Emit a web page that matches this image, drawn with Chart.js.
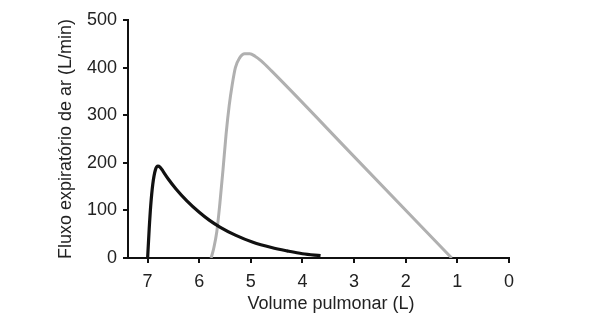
<!DOCTYPE html>
<html lang="pt">
<head>
    <meta charset="UTF-8">
    <title>Fluxo expiratório vs volume pulmonar</title>
    <script src="https://cdn.jsdelivr.net/npm/chart.js"></script>
    <style>
        html, body { margin: 0; padding: 0; background: #fff; }
        #wrap { width: 592px; height: 320px; }
    </style>
</head>
<body>
    <div id="wrap"><canvas id="flowChart"></canvas></div>

    <script>
        // volume (L) and flow (L/min)
        const blackVolume = [7.0, 6.97, 6.94, 6.9, 6.85, 6.8, 6.76, 6.7, 6.6, 6.45, 6.24, 6.0, 5.8, 5.6, 5.3, 4.96, 4.6, 4.3, 4.0, 3.65];
        const blackFlow   = [0,   60,   110,  155, 185,  193, 191,  182, 166, 145,  120,  96,  79,  65,  48,  33,   22,  15,  9,   5];

        const grayVolume = [5.77, 5.72, 5.66, 5.6, 5.54, 5.48, 5.42, 5.36, 5.3, 5.22, 5.12, 5.02, 4.92, 4.8, 4.6, 3.0, 1.11];
        const grayFlow   = [0,    20,   55,   115, 185,  260,  320,  365,  400, 420,  429,  429,  424,  414, 393, 213, 0];

        const xTicks = [0, 1, 2, 3, 4, 5, 6, 7];
        const yTicks = [0, 100, 200, 300, 400, 500];

        const toPoints = (xs, ys) => xs.map((x, i) => ({ x: x, y: ys[i] }));

        const font = { family: "'Liberation Sans', Arial, sans-serif", size: 18 };
        const ink = '#222';

        new Chart(document.getElementById('flowChart'), {
            type: 'scatter',
            data: {
                datasets: [
                    {
                        label: 'Obstrutivo',
                        data: toPoints(blackVolume, blackFlow),
                        showLine: true,
                        borderColor: '#111',
                        borderWidth: 3.2,
                        pointRadius: 0,
                        cubicInterpolationMode: 'monotone'
                    },
                    {
                        label: 'Normal',
                        data: toPoints(grayVolume, grayFlow),
                        showLine: true,
                        borderColor: '#b0b0b0',
                        borderWidth: 3,
                        pointRadius: 0,
                        cubicInterpolationMode: 'monotone'
                    }
                ]
            },
            options: {
                responsive: true,
                maintainAspectRatio: false,
                animation: false,
                layout: { padding: { left: 45, right: 83, top: 20, bottom: 5 } },
                plugins: { legend: { display: false }, tooltip: { enabled: false } },
                scales: {
                    x: {
                        type: 'linear',
                        reverse: true,
                        min: 0,
                        max: 7.38,
                        afterBuildTicks: axis => { axis.ticks = xTicks.map(v => ({ value: v })); },
                        afterFit: axis => { axis.height = 57; },
                        grid: { drawOnChartArea: false, drawTicks: true, tickLength: 5, color: '#111', lineWidth: 2 },
                        border: { color: '#111', width: 2 },
                        ticks: { color: ink, font: font, padding: 8, maxRotation: 0 },
                        title: { display: true, text: '\u00a0\u00a0\u00a0\u00a0\u00a0Volume pulmonar (L)', color: ink, font: font, padding: { top: 5, bottom: 0 } }
                    },
                    y: {
                        min: 0,
                        max: 500,
                        afterBuildTicks: axis => { axis.ticks = yTicks.map(v => ({ value: v })); },
                        afterFit: axis => { axis.width = 83; },
                        grid: { drawOnChartArea: false, drawTicks: true, tickLength: 5, color: '#111', lineWidth: 2 },
                        border: { color: '#111', width: 2 },
                        ticks: { color: ink, font: font, padding: 6 },
                        title: { display: true, text: 'Fluxo expiratório de ar (L/min)', color: ink, font: font, padding: { top: 10, bottom: 0 } }
                    }
                }
            }
        });
    </script>
</body>
</html>
